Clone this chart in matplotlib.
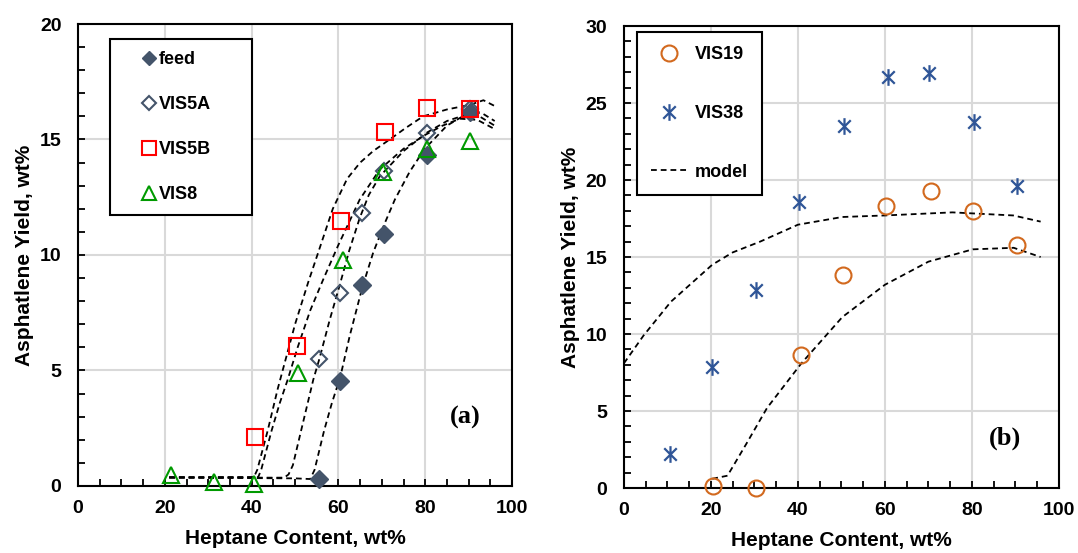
import numpy as np
import matplotlib
matplotlib.use('Agg')
import matplotlib.pyplot as plt
from matplotlib.ticker import MultipleLocator
from matplotlib.path import Path

plt.rcParams['font.family'] = ['Liberation Sans', 'DejaVu Sans']
plt.rcParams['font.weight'] = 'bold'

# ---- panel (a) data ----
feed_x = [55.6, 60.4, 65.5, 70.5, 80.4, 90.4]
feed_y = [0.32, 4.53, 8.68, 10.93, 14.35, 16.2]
vis5a_x = [55.6, 60.4, 65.4, 70.6, 80.4, 90.4]
vis5a_y = [5.49, 8.34, 11.81, 13.62, 15.27, 16.33]
vis5b_x = [40.8, 50.5, 60.6, 70.7, 80.4, 90.4]
vis5b_y = [2.1, 6.06, 11.46, 15.33, 16.36, 16.3]
vis8_x = [21.4, 31.3, 40.6, 50.7, 61.1, 70.3, 80.4, 90.4]
vis8_y = [0.47, 0.17, 0.08, 4.89, 9.79, 13.6, 14.58, 14.93]

# model curves (a)
m5b_x = [21, 40.5, 41.3, 43.7, 46, 48, 50, 53, 55.5, 58.7, 62, 65, 68, 71.8, 75.5, 79.5, 85, 90.3, 93.4, 96]
m5b_y = [0.38, 0.38, 0.7, 2.4, 4.2, 5.6, 7.0, 8.8, 10.2, 12.0, 13.3, 14.0, 14.5, 15.0, 15.5, 16.0, 16.3, 16.5, 16.7, 16.45]
m8_x = [21, 41.5, 42.2, 44.6, 46.5, 48.3, 50.6, 53.5, 56.4, 59.9, 64.9, 69.5, 75, 80, 84, 88, 92, 96]
m8_y = [0.38, 0.38, 0.7, 2.4, 3.6, 4.6, 6.0, 7.6, 8.9, 10.4, 12.4, 13.7, 14.6, 15.2, 15.6, 15.9, 15.85, 15.45]
m5a_x = [21, 47.5, 48.5, 49.5, 51.4, 54.2, 55.6, 58, 60.3, 62.5, 64.9, 67, 69.5, 75, 80.4, 85, 89, 92.5, 96]
m5a_y = [0.36, 0.36, 0.5, 0.9, 2.4, 4.6, 5.5, 7.2, 8.7, 10.2, 11.6, 12.6, 13.4, 14.5, 15.3, 15.8, 16.05, 16.0, 15.6]
mfeed_x = [21, 50, 53.5, 54.5, 56.7, 58.5, 60.4, 62.6, 65.5, 68, 70.5, 73, 76.4, 79.9, 85, 90.4, 93, 96]
mfeed_y = [0.36, 0.33, 0.3, 0.7, 2.4, 3.6, 4.7, 6.5, 8.6, 10.1, 11.3, 12.4, 13.6, 14.6, 15.6, 16.2, 16.15, 15.8]

# ---- panel (b) data ----
vis19_x = [20.5, 30.3, 40.7, 50.4, 60.2, 70.7, 80.3, 90.4]
vis19_y = [0.14, 0.02, 8.63, 13.84, 18.34, 19.3, 18.0, 15.8]
vis38_x = [10.6, 20.3, 30.3, 40.3, 50.7, 60.8, 70.1, 80.4, 90.4]
vis38_y = [2.19, 7.85, 12.85, 18.58, 23.5, 26.7, 26.96, 23.8, 19.6]

mup_x = [0, 4.5, 10.8, 20.3, 25, 31.3, 40, 50.2, 60, 75.5, 89.5, 95.8]
mup_y = [8.1, 9.9, 12.1, 14.5, 15.3, 16.0, 17.1, 17.6, 17.7, 17.9, 17.7, 17.3]
mlo_x = [20.3, 23.8, 28.2, 32.9, 40.8, 50.2, 60, 70, 80.2, 89.6, 95.8]
mlo_y = [0.6, 0.8, 2.9, 5.2, 8.1, 11.1, 13.2, 14.7, 15.5, 15.6, 15.0]

slate = '#44546A'
dash = (0, (3.2, 2.2))

# excel-like asterisk: an x with a vertical bar
star = Path([(0, -1), (0, 1), (-0.75, -0.75), (0.75, 0.75), (-0.75, 0.75), (0.75, -0.75)],
            [Path.MOVETO, Path.LINETO, Path.MOVETO, Path.LINETO, Path.MOVETO, Path.LINETO])

fig = plt.figure(figsize=(10.78, 5.53), dpi=100)
ax1 = fig.add_axes([0.0724, 0.1212, 0.4026, 0.8354])
ax2 = fig.add_axes([0.5788, 0.1175, 0.4035, 0.8354])


def style_axes(ax, ymax):
    ax.set_xlim(0, 100)
    ax.set_ylim(0, ymax)
    ax.xaxis.set_major_locator(MultipleLocator(20))
    ax.xaxis.set_minor_locator(MultipleLocator(5))
    ax.yaxis.set_major_locator(MultipleLocator(5))
    ax.yaxis.set_minor_locator(MultipleLocator(1))
    ax.tick_params(which='both', direction='in', length=5, width=1.3, top=False, right=False)
    ax.tick_params(axis='x', which='major', pad=10, labelsize=14)
    ax.tick_params(axis='y', which='major', pad=12, labelsize=14)
    ax.grid(True, which='major', color='#D9D9D9', lw=1.5)
    ax.set_axisbelow(True)
    for s in ax.spines.values():
        s.set_linewidth(1.5)
        s.set_color('black')
    ax.set_xlabel('Heptane Content, wt%', fontsize=15, fontweight='bold', labelpad=9)
    ax.set_ylabel('Asphatlene Yield, wt%', fontsize=15, fontweight='bold', labelpad=4)


style_axes(ax1, 20)
style_axes(ax2, 30)

# panel (a)
for mx, my in [(m5b_x, m5b_y), (m8_x, m8_y), (m5a_x, m5a_y), (mfeed_x, mfeed_y)]:
    ax1.plot(mx, my, color='black', lw=1.3, ls=dash, zorder=2)

ax1.plot(feed_x, feed_y, ls='none', marker='D', ms=9, color=slate, mec=slate,
         label='feed', clip_on=False, zorder=3)
ax1.plot(vis5a_x, vis5a_y, ls='none', marker='D', ms=8.5, mfc='none', mec=slate, mew=1.5,
         label='VIS5A', clip_on=False, zorder=3)
ax1.plot(vis5b_x, vis5b_y, ls='none', marker='s', ms=12, mfc='none', mec='#FF0000', mew=1.5,
         label='VIS5B', clip_on=False, zorder=3)
ax1.plot(vis8_x, vis8_y, ls='none', marker='^', ms=12, mfc='none', mec='#009A00', mew=1.5,
         label='VIS8', clip_on=False, zorder=3)

leg1 = ax1.legend(loc='upper left', bbox_to_anchor=(0.074, 0.584, 0.327, 0.383), mode='expand',
                  borderaxespad=0, fontsize=13, fancybox=False, framealpha=1, edgecolor='black',
                  borderpad=0.65, labelspacing=1.55, handlelength=3.0, handletextpad=-0.95,
                  markerscale=0.8, numpoints=1)
leg1.get_frame().set_linewidth(1.5)

ax1.text(0.892, 0.148, '(a)', transform=ax1.transAxes, ha='center', va='center',
         fontsize=19, fontweight='bold', family=['Liberation Serif', 'DejaVu Serif'])

# panel (b)
ax2.plot(vis19_x, vis19_y, ls='none', marker='o', ms=11.5, mfc='none', mec='#D2691E', mew=1.5,
         label='VIS19', clip_on=False, zorder=3)
ax2.plot(vis38_x, vis38_y, ls='none', marker=star, ms=12, color='#2F5597', mew=1.6,
         label='VIS38', clip_on=False, zorder=3)
ax2.plot(mup_x, mup_y, color='black', lw=1.3, ls=dash, label='model', zorder=2)
ax2.plot(mlo_x, mlo_y, color='black', lw=1.3, ls=dash, zorder=2)

leg2 = ax2.legend(loc='upper left', bbox_to_anchor=(0.030, 0.987), borderaxespad=0,
                  fontsize=13, fancybox=False, framealpha=1, edgecolor='black',
                  borderpad=0.8, labelspacing=2.3, handlelength=2.0, handletextpad=0.4,
                  numpoints=1)
leg2.get_frame().set_linewidth(1.5)

ax2.text(0.876, 0.107, '(b)', transform=ax2.transAxes, ha='center', va='center',
         fontsize=19, fontweight='bold', family=['Liberation Serif', 'DejaVu Serif'])

plt.savefig('out.png', dpi=100)
